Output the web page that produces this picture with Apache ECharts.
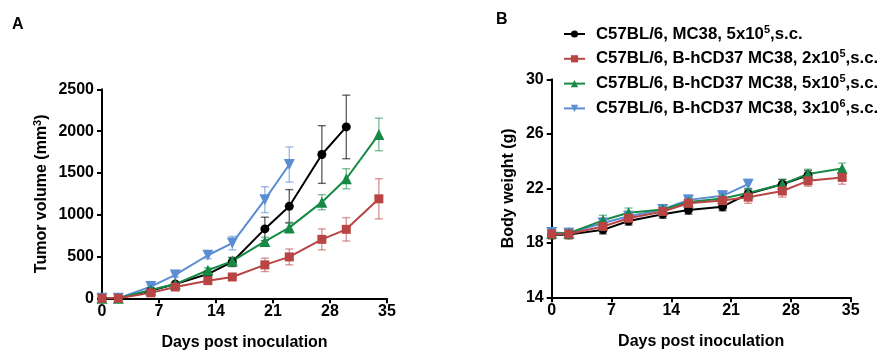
<!DOCTYPE html>
<html><head><meta charset="utf-8">
<script src="https://cdn.jsdelivr.net/npm/echarts@6/dist/echarts.min.js"></script>
<style>html,body{margin:0;padding:0;background:#fff}#c{width:886px;height:358px}</style>
</head><body><div id="c"></div>
<script>
// ---- data ----
const days = [0, 2, 6, 9, 13, 16, 20, 23, 27, 30, 34];
const seriesNames = [
  'C57BL/6, MC38, 5x10^5,s.c.',
  'C57BL/6, B-hCD37 MC38, 2x10^5,s.c.',
  'C57BL/6, B-hCD37 MC38, 5x10^5,s.c.',
  'C57BL/6, B-hCD37 MC38, 3x10^6,s.c.'
];
// Panel A: tumor volume (mm3)
const tumorBlack = [0, 0, 90, 170, 290, 435, 830, 1100, 1720, 2050];
const tumorBlackErr = [0, 0, 15, 20, 30, 55, 140, 200, 345, 380];
const tumorRed = [0, 0, 65, 135, 211, 255, 400, 495, 705, 825, 1190];
const tumorRedErr = [0, 0, 15, 20, 25, 25, 80, 95, 125, 140, 240];
const tumorGreen = [0, 0, 100, 170, 335, 445, 680, 845, 1150, 1430, 1960];
const tumorGreenErr = [0, 0, 15, 20, 30, 40, 50, 64, 90, 120, 195];
const tumorBlue = [0, 0, 140, 280, 515, 660, 1180, 1600];
const tumorBlueErr = [0, 0, 15, 25, 40, 80, 155, 210];
// Panel B: body weight (g)
const weightBlack = [18.6, 18.6, 18.95, 19.6, 20.1, 20.4, 20.65, 21.6, 22.3, 22.95];
const weightBlackErr = [0.3, 0.3, 0.3, 0.3, 0.3, 0.3, 0.3, 0.35, 0.35, 0.35];
const weightRed = [18.65, 18.65, 19.2, 19.8, 20.3, 20.9, 21.1, 21.35, 21.8, 22.55, 22.8];
const weightRedErr = [0.35, 0.35, 0.35, 0.35, 0.35, 0.35, 0.4, 0.45, 0.45, 0.4, 0.5];
const weightGreen = [18.7, 18.7, 19.65, 20.2, 20.45, 21.0, 21.25, 21.65, 22.3, 23.05, 23.45];
const weightGreenErr = [0.35, 0.35, 0.37, 0.35, 0.35, 0.35, 0.35, 0.35, 0.35, 0.35, 0.4];
const weightBlue = [18.75, 18.7, 19.45, 19.95, 20.45, 21.15, 21.45, 22.3];
const weightBlueErr = [0.35, 0.35, 0.35, 0.35, 0.35, 0.35, 0.35, 0.35];
// axis ticks
const xTicks = {min: 0, max: 35, interval: 7};
const yTicksA = {min: 0, max: 2500, interval: 500};
const yTicksB = {min: 14, max: 30, interval: 4};

// ---- styles ----
const colors = ['#000000', '#B94444', '#168A45', '#5B8DD3'];
const errColors = ['rgba(0,0,0,0.6)', 'rgba(185,68,68,0.55)', 'rgba(22,138,69,0.55)', 'rgba(91,141,211,0.6)'];
const symbols = ['circle', 'rect', 'triangle', 'triangle'];
const symRot = [0, 0, 0, 180];
const symSize = [9, 9, 11, 11];
const FONT = 'Liberation Sans, Arial, sans-serif';

function pts(vals, errs) {
  return vals.map((v, i) => [days[i], v, errs ? errs[i] : 0]);
}
function errRender(params, api) {
  const x = api.value(0), y = api.value(1), e = api.value(2);
  if (!e) return null;
  const t = api.coord([x, y + e]), b = api.coord([x, y - e]);
  const c = api.visual('color');
  const hw = 4;
  const st = {stroke: c, lineWidth: 1.4};
  return {type: 'group', children: [
    {type: 'line', shape: {x1: t[0], y1: t[1], x2: b[0], y2: b[1]}, style: st},
    {type: 'line', shape: {x1: t[0] - hw, y1: t[1], x2: t[0] + hw, y2: t[1]}, style: st},
    {type: 'line', shape: {x1: b[0] - hw, y1: b[1], x2: b[0] + hw, y2: b[1]}, style: st}
  ]};
}
const axisCommon = {
  axisLine: {show: true, lineStyle: {color: '#000', width: 2}},
  axisTick: {show: true, length: 5, lineStyle: {color: '#000', width: 2}},
  splitLine: {show: false},
  axisLabel: {color: '#000', fontFamily: FONT, fontWeight: 'bold', fontSize: 16, formatter: v => String(v)},
  nameTextStyle: {color: '#000', fontFamily: FONT, fontWeight: 'bold', fontSize: 16}
};
function xAx(grid) {
  return Object.assign({}, axisCommon, {type: 'value', gridIndex: grid, min: xTicks.min, max: xTicks.max, interval: xTicks.interval,
    name: 'Days post inoculation', nameLocation: 'middle', nameGap: 36,
    axisLabel: Object.assign({}, axisCommon.axisLabel, {margin: 5})});
}
const panelA = [[tumorBlack, tumorBlackErr], [tumorRed, tumorRedErr], [tumorGreen, tumorGreenErr], [tumorBlue, tumorBlueErr]];
const panelB = [[weightBlack, weightBlackErr], [weightRed, weightRedErr], [weightGreen, weightGreenErr], [weightBlue, weightBlueErr]];
const order = [0, 3, 2, 1];
const series = [];
[panelA, panelB].forEach((panel, g) => {
  order.forEach(k => {
    const [vals, errs] = panel[k];
    series.push({type: 'custom', xAxisIndex: g, yAxisIndex: g, renderItem: errRender, data: pts(vals, errs),
      encode: {x: 0, y: 1}, itemStyle: {color: errColors[k]}, silent: true, z: 2, clip: false});
    series.push({type: 'line', name: seriesNames[k], xAxisIndex: g, yAxisIndex: g, data: pts(vals),
      symbol: symbols[k], symbolRotate: symRot[k], symbolSize: symSize[k],
      lineStyle: {color: colors[k], width: 2}, itemStyle: {color: colors[k]}, color: colors[k],
      z: 3, animation: false});
  });
});
function legendFmt(name) {
  const parts = name.split('^');
  const m = parts[1].match(/^(\d)(.*)$/);
  return '{t|' + parts[0] + '}{s|' + m[1] + '}{t|' + m[2] + '}';
}
const chart = echarts.init(document.getElementById('c'), null, {renderer: 'canvas'});
chart.setOption({
  animation: false,
  backgroundColor: '#fff',
  title: [
    {text: 'A', left: 12, top: 17, padding: 0, textStyle: {fontFamily: FONT, fontWeight: 'bold', fontSize: 16, color: '#000'}},
    {text: 'B', left: 496, top: 12, padding: 0, textStyle: {fontFamily: FONT, fontWeight: 'bold', fontSize: 16, color: '#000'}}
  ],
  legend: {
    data: seriesNames, orient: 'vertical', left: 563, top: 24, padding: 0, itemWidth: 21, itemHeight: 9, itemGap: 6.3,
    selectedMode: false,
    formatter: legendFmt,
    textStyle: {color: '#000', fontFamily: FONT, fontWeight: 'bold', fontSize: 16.8, padding: [0, 0, 0, 6],
      rich: {t: {fontFamily: FONT, fontWeight: 'bold', fontSize: 16.8, lineHeight: 18, color: '#000'},
             s: {fontFamily: FONT, fontWeight: 'bold', fontSize: 11, color: '#000', padding: [0, 0, 9, 0]}}}
  },
  grid: [
    {left: 102, top: 89.3, width: 285, height: 209, containLabel: false},
    {left: 551.7, top: 79.3, width: 299, height: 218, containLabel: false}
  ],
  xAxis: [xAx(0), xAx(1)],
  yAxis: [
    Object.assign({}, axisCommon, {type: 'value', gridIndex: 0, min: yTicksA.min, max: yTicksA.max, interval: yTicksA.interval,
      name: '{t|Tumor volume (mm}{s|3}{t|)}', nameLocation: 'middle', nameGap: 51,
      nameTextStyle: Object.assign({}, axisCommon.nameTextStyle, {rich: {
        t: {fontFamily: FONT, fontWeight: 'bold', fontSize: 16, color: '#000'},
        s: {fontFamily: FONT, fontWeight: 'bold', fontSize: 11, color: '#000', padding: [0, 0, 8, 0]}}})}),
    Object.assign({}, axisCommon, {type: 'value', gridIndex: 1, min: yTicksB.min, max: yTicksB.max, interval: yTicksB.interval,
      name: 'Body weight (g)', nameLocation: 'middle', nameGap: 35})
  ],
  series: series
});
</script></body></html>
